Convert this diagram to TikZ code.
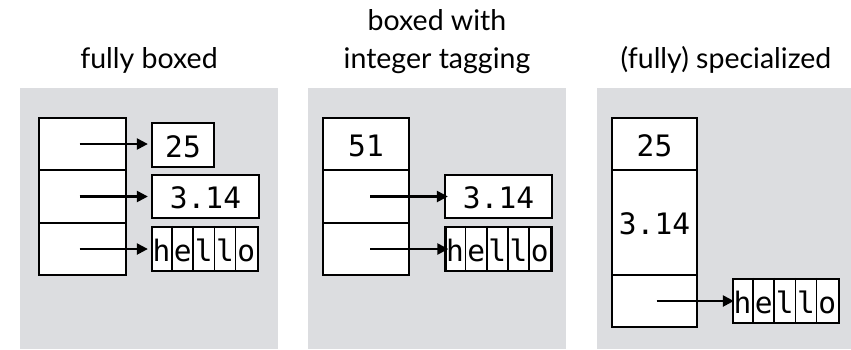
\documentclass[tikz,border=0pt]{standalone}
\usepackage{fontspec}
\setmainfont{Lato}
\newfontfamily\monofont{DejaVu Sans Mono}
\usetikzlibrary{arrows.meta}
\definecolor{panelgray}{RGB}{220,221,224}
\tikzset{
  panel/.style={fill=panelgray, draw=none},
  title/.style={font=\fontsize{28.5}{32}\selectfont, inner sep=0pt, anchor=base},
  cell/.style={draw=black, line width=2.3pt, fill=white, inner sep=0pt,
    font=\monofont\fontsize{29.5}{32}\selectfont, text height=24pt, text depth=0pt},
  letter/.style={inner sep=0pt, font=\monofont\fontsize{29.5}{32}\selectfont,
    text height=24pt, text depth=0pt},
  sep/.style={draw=black, line width=1.6pt},
  ptr/.style={draw=black, line width=2.3pt, -{Triangle[length=11pt,width=11pt]}},
}
\newcommand{\hellobox}[3]{%
  \node[cell, minimum width=106pt, minimum height=44pt] (#1) at (#2,#3) {};
  \foreach \i in {1,...,4}
    \draw[sep] ([xshift=\i*21.2pt]#1.north west) -- ([xshift=\i*21.2pt]#1.south west);
  \foreach \c [count=\i] in {h,e,l,l,o}
    \node[letter] (#1-\i) at ([xshift={(\i-0.5)*21.2pt}]#1.west) {\c};
}
\begin{document}
\begin{tikzpicture}[x=1pt, y=-1pt]
\useasboundingbox (0,0) rectangle (851,349);
% panels
\fill[panel] (20,88) rectangle (278,349);
\fill[panel] (308,88) rectangle (566,349);
\fill[panel] (597,88) rectangle (855,349);
% titles
\node[title] (t1) at (149,68) {fully boxed};
\node[title] (t2a) at (437,30) {boxed with};
\node[title] (t2b) at (437,68) {integer tagging};
\node[title] (t3) at (726,68) {(fully) specialized};
% panel 1
\node[cell, minimum width=87pt, minimum height=52pt] (a1) at (82.5,144) {};
\node[cell, minimum width=87pt, minimum height=53pt] (a2) at (82.5,196.5) {};
\node[cell, minimum width=87pt, minimum height=52pt] (a3) at (82.5,249) {};
\node[cell, minimum width=62pt, minimum height=44pt] (b1) at (183,145) {25};
\node[cell, minimum width=107pt, minimum height=43pt] (b2) at (205.5,196.5) {3.14};
\hellobox{b3}{205}{249}
\draw[ptr] ([xshift=-3pt]a1.center) -- ([xshift=-3pt]a1.center -| b1.west);
\draw[ptr] ([xshift=-3pt]a2.center) -- ([xshift=-3pt]a2.center -| b2.west);
\draw[ptr] ([xshift=-3pt]a3.center) -- ([xshift=-3pt]a3.center -| b3.west);
% panel 2
\node[cell, minimum width=86pt, minimum height=52pt] (c1) at (366,144) {51};
\node[cell, minimum width=86pt, minimum height=53pt] (c2) at (366,196.5) {};
\node[cell, minimum width=86pt, minimum height=52pt] (c3) at (366,249) {};
\node[cell, minimum width=107pt, minimum height=43pt] (d2) at (498.5,196.5) {3.14};
\hellobox{d3}{498.5}{249}
\draw[ptr] ([xshift=4pt]c2.center) -- ([xshift=4pt]c2.center -| d2.west);
\draw[ptr] ([xshift=4pt]c3.center) -- ([xshift=4pt]c3.center -| d3.west);
% panel 3
\node[cell, minimum width=85pt, minimum height=52pt] (e1) at (654.5,144) {25};
\node[cell, minimum width=85pt, minimum height=105pt] (e2) at (654.5,222.5) {3.14};
\node[cell, minimum width=85pt, minimum height=52pt] (e3) at (654.5,301) {};
\hellobox{f3}{786}{301}
\draw[ptr] ([xshift=2pt]e3.center) -- ([xshift=2pt]e3.center -| f3.west);
\end{tikzpicture}
\end{document}
